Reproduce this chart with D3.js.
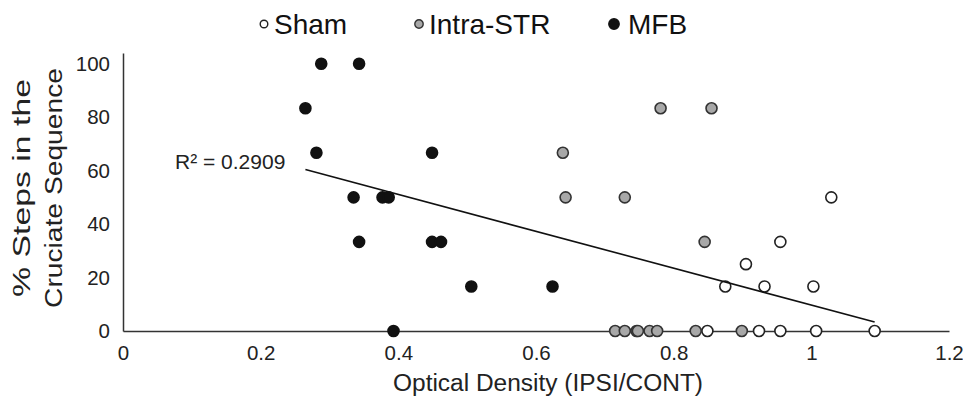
<!DOCTYPE html>
<html>
<head>
<meta charset="utf-8">
<script src="https://cdn.jsdelivr.net/npm/d3@7"></script>
<style>
  body { margin: 0; background: #fff; }
  svg { font-family: "Liberation Sans", Arial, sans-serif; }
</style>
</head>
<body>
<div id="chart"></div>
<script>
// series values
var seriesNames = ["Sham", "Intra-STR", "MFB"];

var shamX = [0.849, 0.924, 0.955, 1.007, 1.092, 1.029, 0.955, 0.905, 0.875, 0.932, 1.003];
var shamY = [0, 0, 0, 0, 0, 50, 33.33, 25, 16.67, 16.67, 16.67];

var intraX = [0.715, 0.729, 0.746, 0.748, 0.765, 0.776, 0.832, 0.899, 0.639, 0.643, 0.729, 0.781, 0.855, 0.845];
var intraY = [0, 0, 0, 0, 0, 0, 0, 0, 66.67, 50, 50, 83.33, 83.33, 33.33];

var mfbX = [0.265, 0.288, 0.343, 0.281, 0.449, 0.335, 0.377, 0.386, 0.343, 0.449, 0.462, 0.506, 0.624, 0.393];
var mfbY = [83.33, 100, 100, 66.67, 66.67, 50, 50, 50, 33.33, 33.33, 33.33, 16.67, 16.67, 0];

var xTicks = [0, 0.2, 0.4, 0.6, 0.8, 1, 1.2];
var xTickLabels = ["0", "0.2", "0.4", "0.6", "0.8", "1", "1.2"];
var yTicks = [0, 20, 40, 60, 80, 100];
var rSquaredLabel = "R\u00b2 = 0.2909";

var W = 963, H = 408;

var svg = d3.select("#chart")
    .append("svg")
    .attr("width", W)
    .attr("height", H);

var x = d3.scaleLinear().domain([0, 1.2]).range([123, 949]);
var y = d3.scaleLinear().domain([0, 104]).range([331, 53]);

// x axis
var xAxis = svg.append("g")
    .attr("transform", "translate(0," + y(0) + ")")
    .call(d3.axisBottom(x).tickValues(xTicks)
        .tickFormat(function (d, i) { return xTickLabels[i]; })
        .tickSize(0).tickPadding(14));
xAxis.select(".domain").attr("stroke", "#333").attr("stroke-width", 1.5);
xAxis.selectAll("text").attr("font-size", 20.5).attr("fill", "#222").attr("font-family", "Liberation Sans, Arial, sans-serif");

// y axis
var yAxis = svg.append("g")
    .attr("transform", "translate(" + x(0) + ",0)")
    .call(d3.axisLeft(y).tickValues(yTicks).tickSize(0).tickPadding(13));
yAxis.select(".domain").attr("stroke", "#333").attr("stroke-width", 1.5);
yAxis.selectAll("text").attr("font-size", 20.5).attr("fill", "#222").attr("font-family", "Liberation Sans, Arial, sans-serif");

// axis titles
svg.append("text")
    .attr("x", 548)
    .attr("y", 391)
    .attr("text-anchor", "middle")
    .attr("font-size", 23.5)
    .attr("fill", "#222")
    .attr("textLength", 310)
    .attr("lengthAdjust", "spacingAndGlyphs")
    .text("Optical Density (IPSI/CONT)");

var yTitle = svg.append("g").attr("transform", "translate(0,188) rotate(-90)");
yTitle.append("text")
    .attr("x", 0).attr("y", 30)
    .attr("text-anchor", "middle")
    .attr("font-size", 23.5)
    .attr("fill", "#222")
    .attr("textLength", 218)
    .attr("lengthAdjust", "spacingAndGlyphs")
    .text("% Steps in the");
yTitle.append("text")
    .attr("x", 0).attr("y", 62)
    .attr("text-anchor", "middle")
    .attr("font-size", 23.5)
    .attr("fill", "#222")
    .attr("textLength", 240)
    .attr("lengthAdjust", "spacingAndGlyphs")
    .text("Cruciate Sequence");

// linear trendline over all points
var allX = shamX.concat(intraX, mfbX);
var allY = shamY.concat(intraY, mfbY);
var mx = d3.mean(allX), my = d3.mean(allY);
var sxy = d3.sum(allX, function (v, i) { return (v - mx) * (allY[i] - my); });
var sxx = d3.sum(allX, function (v) { return (v - mx) * (v - mx); });
var slope = sxy / sxx, icpt = my - slope * mx;
var xExt = d3.extent(allX);

// points
function drawSeries(xs, ys, fill, stroke) {
    svg.append("g").selectAll("circle")
        .data(xs)
        .enter().append("circle")
        .attr("cx", function (d) { return x(d); })
        .attr("cy", function (d, i) { return y(ys[i]); })
        .attr("r", 5.5)
        .attr("fill", fill)
        .attr("stroke", stroke)
        .attr("stroke-width", 1.6);
}
drawSeries(shamX, shamY, "#fff", "#222");
drawSeries(intraX, intraY, "#a8a8a8", "#333");
drawSeries(mfbX, mfbY, "#111", "#111");

svg.append("line")
    .attr("x1", x(xExt[0])).attr("y1", y(icpt + slope * xExt[0]))
    .attr("x2", x(xExt[1])).attr("y2", y(icpt + slope * xExt[1]))
    .attr("stroke", "#111")
    .attr("stroke-width", 1.6);

svg.append("text")
    .attr("x", 175).attr("y", 169)
    .attr("font-size", 21)
    .attr("fill", "#222")
    .text(rSquaredLabel);

// legend
var legendX = [264, 419, 614];
var legendR = [3.8, 4.2, 5.2];
var legendFill = ["#fff", "#a8a8a8", "#111"];
var legendStroke = ["#222", "#333", "#111"];
var legend = svg.append("g").selectAll("g")
    .data(seriesNames)
    .enter().append("g")
    .attr("transform", function (d, i) { return "translate(" + legendX[i] + ",24)"; });
legend.append("circle")
    .attr("r", function (d, i) { return legendR[i]; })
    .attr("fill", function (d, i) { return legendFill[i]; })
    .attr("stroke", function (d, i) { return legendStroke[i]; })
    .attr("stroke-width", 1.4);
legend.append("text")
    .attr("x", function (d, i) { return i == 2 ? 14 : 10; })
    .attr("y", 10)
    .attr("font-size", 28)
    .attr("fill", "#111")
    .text(function (d) { return d; });
</script>
</body>
</html>
